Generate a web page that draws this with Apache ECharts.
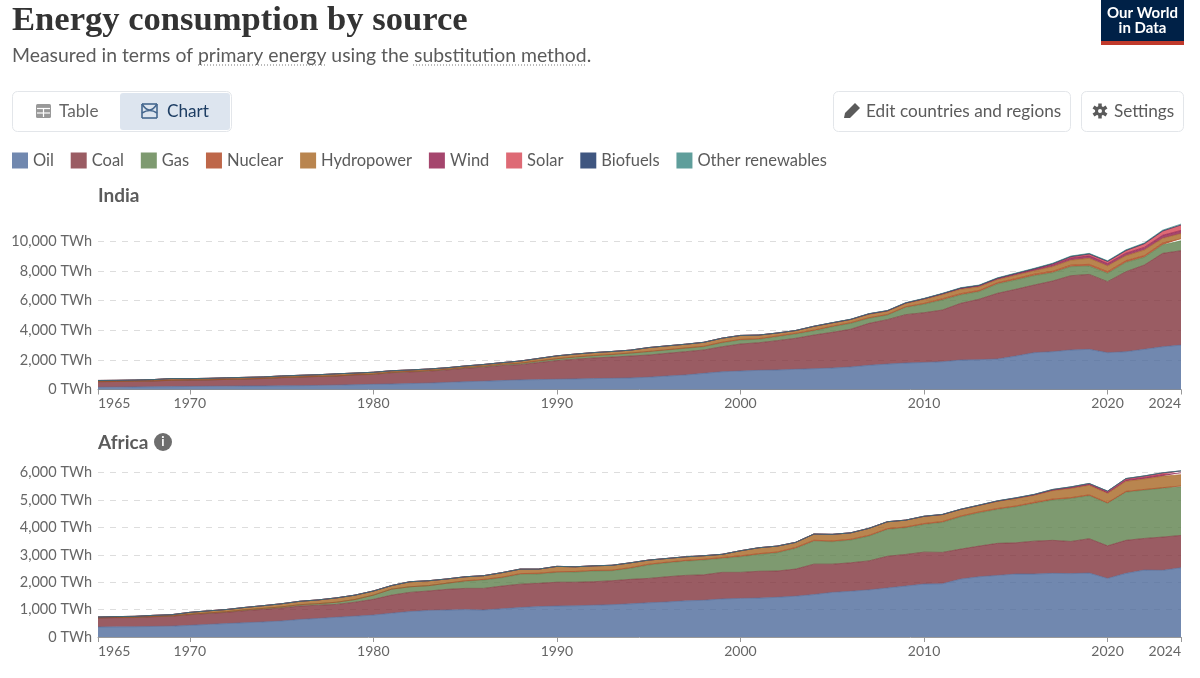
<!DOCTYPE html>
<html><head><meta charset="utf-8">
<style>html,body{margin:0;padding:0;background:#fff}#c{width:1200px;height:678px}</style>
<script src="https://cdn.jsdelivr.net/npm/echarts@6/dist/echarts.min.js"></script>
</head><body><div id="c"></div>
<script>
const sourceNames = ['Oil','Coal','Gas','Nuclear','Hydropower','Wind','Solar','Biofuels','Other renewables'];
const sourceColors = ['#4E6A9B','#81333C','#5E814C','#AE411C','#A76623','#8E1849','#D64553','#0F2C60','#378682'];
const years = ['1965','1966','1967','1968','1969','1970','1971','1972','1973','1974','1975','1976','1977','1978','1979','1980','1981','1982','1983','1984','1985','1986','1987','1988','1989','1990','1991','1992','1993','1994','1995','1996','1997','1998','1999','2000','2001','2002','2003','2004','2005','2006','2007','2008','2009','2010','2011','2012','2013','2014','2015','2016','2017','2018','2019','2020','2021','2022','2023','2024'];
const yearTicks = ['1965','1970','1980','1990','2000','2010','2020','2024'];

const indiaOil = [150,160,170,185,195,205,215,225,235,240,250,260,275,295,325,350,370,400,430,480,527,560,600,650,670,690,715,740,755,780,830,910,980,1090,1200,1250,1295,1320,1365,1405,1450,1520,1635,1720,1790,1830,1880,1990,2015,2060,2260,2490,2555,2670,2715,2490,2555,2715,2890,3000];
const indiaCoal = [380,380,390,395,425,435,435,455,475,500,550,580,605,615,665,670,770,790,810,840,903,950,1020,1030,1150,1260,1335,1390,1435,1480,1500,1535,1575,1580,1690,1825,1865,1980,2095,2275,2415,2550,2835,3000,3270,3360,3490,3835,4085,4440,4510,4570,4775,5020,5065,4800,5405,5695,6310,6380];
const indiaGas = [2,2,2,2,2,3,3,3,3,4,5,5,6,8,10,15,20,25,30,40,50,60,75,85,95,115,135,150,165,190,225,225,225,220,270,270,230,270,290,290,375,400,340,310,490,570,680,565,510,630,630,630,560,610,560,560,630,520,570,670];
const indiaNuclear = [0,0,0,0,3,4,4,4,6,6,7,8,8,8,9,9,9,9,9,10,12,12,13,16,18,19,20,20,20,18,22,25,30,34,38,42,50,52,50,47,47,47,45,40,45,60,85,88,90,95,100,105,100,105,120,115,120,120,130,135];
const indiaHydro = [78,78,78,88,115,88,98,103,101,100,103,107,106,134,101,121,101,96,106,100,98,108,107,144,167,191,190,195,195,192,258,255,250,266,270,264,236,190,179,246,208,201,232,217,213,266,278,292,240,193,222,222,308,330,407,389,327,370,313,346];
const indiaWind = [0,0,0,0,0,0,0,0,0,0,0,0,0,0,0,0,0,0,0,0,0,0,0,0,0,0,0,0,0,0,0,0,0,0,2,4,4,5,6,10,15,20,28,35,42,50,60,75,80,85,90,105,135,155,165,160,175,185,210,220];
const indiaSolar = [0,0,0,0,0,0,0,0,0,0,0,0,0,0,0,0,0,0,0,0,0,0,0,0,0,0,0,0,0,0,0,0,0,0,0,0,0,0,0,0,0,0,0,0,0,0,0,5,8,12,20,30,55,85,120,140,175,240,280,360];
const indiaBiofuels = [0,0,0,0,0,0,0,0,0,0,0,0,0,0,0,0,0,0,0,0,0,0,0,0,0,0,0,0,0,0,0,0,0,0,0,0,0,0,0,0,0,0,0,0,0,2,2,2,2,3,3,3,4,5,6,6,8,10,12,14];
const indiaOther = [0,0,0,0,0,0,0,0,0,0,0,0,0,0,0,0,0,0,0,0,0,0,0,0,0,0,0,0,0,0,0,0,0,0,0,0,0,3,5,7,10,12,15,18,20,22,25,28,30,32,35,35,38,40,42,40,45,50,55,55];

const africaOil = [365,370,375,385,395,425,460,490,520,550,585,640,680,720,760,800,870,930,970,985,1000,985,1030,1075,1110,1130,1140,1160,1180,1210,1250,1280,1320,1340,1390,1410,1420,1450,1490,1550,1630,1670,1720,1790,1860,1935,1945,2117,2200,2250,2300,2300,2325,2315,2335,2140,2325,2445,2435,2530];
const africaCoal = [330,335,335,355,365,390,400,410,440,460,475,490,480,470,510,575,660,700,710,755,775,790,830,855,850,870,860,860,875,895,890,920,930,930,970,950,980,960,990,1110,1030,1040,1060,1160,1155,1165,1145,1093,1120,1170,1140,1200,1205,1175,1255,1190,1205,1155,1215,1180];
const africaGas = [5,10,10,10,10,15,20,25,30,35,40,50,60,80,100,155,220,205,195,220,265,305,305,360,340,360,370,390,365,405,490,510,520,540,510,570,615,665,755,840,820,830,905,980,975,1010,1095,1180,1215,1240,1315,1380,1470,1570,1570,1550,1760,1765,1785,1780];
const africaNuclear = [0,0,0,0,0,0,0,0,0,0,0,0,0,0,0,0,0,0,0,5,15,25,20,25,30,25,25,25,20,25,30,25,30,30,35,35,30,30,35,35,30,30,30,30,30,35,35,30,35,35,30,40,40,30,35,30,30,25,20,25];
const africaHydro = [30,30,35,40,45,70,75,80,90,100,115,125,135,160,160,150,130,185,180,155,145,135,165,165,150,195,170,165,180,175,150,135,130,130,115,185,215,215,185,225,238,233,252,247,246,260,249,238,235,260,270,253,302,335,345,335,365,380,415,415];
const africaWind = [0,0,0,0,0,0,0,0,0,0,0,0,0,0,0,0,0,0,0,0,0,0,0,0,0,0,0,0,0,0,0,0,0,0,0,1,1,1,1,1,2,2,3,3,4,5,6,7,8,10,15,20,25,30,35,40,50,55,60,65];
const africaSolar = [0,0,0,0,0,0,0,0,0,0,0,0,0,0,0,0,0,0,0,0,0,0,0,0,0,0,0,0,0,0,0,0,0,0,0,0,0,0,0,0,0,0,0,0,0,0,0,0,2,5,10,12,18,25,30,40,50,55,65,70];
const africaBiofuels = [0,0,0,0,0,0,0,0,0,0,0,0,0,0,0,0,0,0,0,0,0,0,0,0,0,0,0,0,0,0,0,0,0,0,0,0,0,0,0,0,0,0,0,0,0,0,0,0,0,1,1,1,1,1,1,1,1,1,1,1];
const africaOther = [0,0,0,0,0,0,0,0,0,0,0,0,0,0,0,0,0,0,0,0,0,0,0,0,0,0,0,0,0,0,0,0,0,0,0,0,0,0,0,0,0,0,0,0,0,5,5,5,5,5,5,5,5,5,5,5,5,5,5,5];

const indiaSeries = [indiaOil,indiaCoal,indiaGas,indiaNuclear,indiaHydro,indiaWind,indiaSolar,indiaBiofuels,indiaOther];
const africaSeries = [africaOil,africaCoal,africaGas,africaNuclear,africaHydro,africaWind,africaSolar,africaBiofuels,africaOther];

const FONT = 'Lato';
const GREY = '#5b5b5b';
function mk(list, idx, stack){
  return list.map((vals,i)=>({
    name: sourceNames[i], type:'line', stack, xAxisIndex:idx, yAxisIndex:idx,
    data: vals, showSymbol:false, symbol:'none', silent:true,
    lineStyle:{width:0.7,color:sourceColors[i],opacity:0.9},
    itemStyle:{color:sourceColors[i],opacity:0.8},
    areaStyle:{color:sourceColors[i],opacity:0.8},
    emphasis:{disabled:true}, z:3
  }));
}
const onTick=(i,v)=>yearTicks.includes(String(v));
function xAx(idx){return {
  type:'category', data:years, boundaryGap:false, gridIndex:idx, splitLine:{show:false},
  axisLine:{show:true,lineStyle:{color:'#999',width:1},onZero:true},
  axisTick:{show:true,length:5,lineStyle:{color:'#999'},interval:onTick},
  axisLabel:{fontFamily:FONT,fontSize:14,color:'#666',margin:7,interval:onTick,hideOverlap:false,alignMinLabel:'left',alignMaxLabel:'right'}
};}
function yAx(idx,max,interval){return {
  type:'value', gridIndex:idx, min:0, max, interval,
  axisLine:{show:false},axisTick:{show:false},
  axisLabel:{fontFamily:FONT,fontSize:14.5,color:'#666',margin:6,padding:[2,0,0,0],showMaxLabel:false,
    formatter:v=>v.toLocaleString('en-US')+' TWh'},
  splitLine:{show:true,showMaxLine:false,showMinLine:false,lineStyle:{color:'#ddd',type:[6,6],width:1}}
};}
const ch = echarts.init(document.getElementById('c'),null,{renderer:'canvas'});
const t=(x,y,text,s={})=>({type:'text',x,y,silent:true,style:Object.assign({text,fontFamily:FONT,fontSize:17.2,fill:GREY,verticalAlign:'middle',align:'left'},s)});
const rr=(x,y,w,h,r,fill,stroke)=>({type:'rect',silent:true,shape:{x,y,width:w,height:h,r},style:{fill,stroke:stroke||null,lineWidth:1}});
const ln=(x1,y1,x2,y2,stroke,w,dash)=>({type:'line',silent:true,shape:{x1,y1,x2,y2},style:{stroke,lineWidth:w,lineDash:dash||null}});
const poly=(points,fill)=>({type:'polygon',silent:true,shape:{points},style:{fill}});
const bez=(x1,y1,cx,cy,x2,y2,stroke)=>({type:'bezierCurve',silent:true,shape:{x1,y1,x2,y2,cpx1:cx,cpy1:cy},style:{stroke,fill:null,lineWidth:1.6}});
ch.setOption({
  animation:false, backgroundColor:'#fff',
  legend:{left:7,top:147,itemWidth:16,itemHeight:16,itemGap:16.8,icon:'rect',selectedMode:false,
    textStyle:{fontFamily:FONT,fontSize:16.5,color:GREY},
    data:sourceNames.map((n,i)=>({name:n,itemStyle:{color:sourceColors[i],opacity:0.8}}))},
  grid:[{left:98,right:19,top:222.3,height:167.2},{left:98,right:19,top:470,height:167}],
  xAxis:[xAx(0),xAx(1)],
  yAxis:[yAx(0,11300,2000),yAx(1,6100,1000)],
  series:[...mk(indiaSeries,0,'india'),...mk(africaSeries,1,'africa')],
  graphic:[
    t(12,21,'Energy consumption by source',{fontFamily:'Liberation Serif',fontWeight:'bold',fontSize:34.6,fill:'#333'}),
    t(12,56,'Measured in terms of primary energy using the substitution method.',{fontSize:19.4,fill:GREY}),
    ln(198,65,326,65,'#777',1,[1,2]), ln(413,65,586,65,'#777',1,[1,2]),
    rr(1101,0,83,45,0,'#002147'), rr(1101,41,83,4,0,'#C0392B'),
    t(1142.5,13,'Our World',{fontWeight:'bold',fontSize:15,fill:'#fff',align:'center'}),
    t(1142.5,28,'in Data',{fontWeight:'bold',fontSize:15,fill:'#fff',align:'center'}),
    rr(12.5,91.5,219,40,5,'#fff','#e3e6ea'),
    rr(120,93,110,37,3,'#dde5ef'),
    rr(36,104,15,14,1.5,'#999'),
    ln(37,108.5,50,108.5,'#fff',1.2), ln(37,113,50,113,'#fff',1.2), ln(43.5,108,43.5,117,'#fff',1.2),
    t(59,111,'Table',{fill:'#666'}),
    ln(142,104,142,118,'#46688f',1.6), ln(157,104,157,118,'#46688f',1.6), ln(142,118,157,118,'#46688f',1.6), ln(142,104,157,104,'#46688f',1.6),
    bez(142,104,149.5,116,157,104,'#46688f'), bez(142,113,150,108,157,113,'#46688f'),
    t(167,111,'Chart',{fill:'#1d3d63'}),
    rr(833.5,91.5,237,40,5,'#fff','#e3e6ea'),
    poly([[844,118],[845,113],[855,103],[860,108],[850,118]],GREY),
    t(866,111,'Edit countries and regions'),
    rr(1081.5,91.5,102,40,5,'#fff','#e3e6ea'),
    ln(1100,103.5,1100,118.5,GREY,3.5), ln(1093.5,107,1106.5,115,GREY,3.5), ln(1093.5,115,1106.5,107,GREY,3.5),
    {type:'circle',silent:true,shape:{cx:1100,cy:111,r:3.5},style:{fill:'#fff',stroke:GREY,lineWidth:3}},
    t(1114,111,'Settings'),
    t(98,196,'India',{fontWeight:'bold',fontSize:19}),
    t(98,443,'Africa',{fontWeight:'bold',fontSize:19}),
    {type:'circle',silent:true,shape:{cx:163,cy:442,r:9},style:{fill:'#6e6e6e'}},
    t(163,442,'i',{fontWeight:'bold',fontSize:13,fill:'#fff',align:'center'})
  ]
});
</script></body></html>
